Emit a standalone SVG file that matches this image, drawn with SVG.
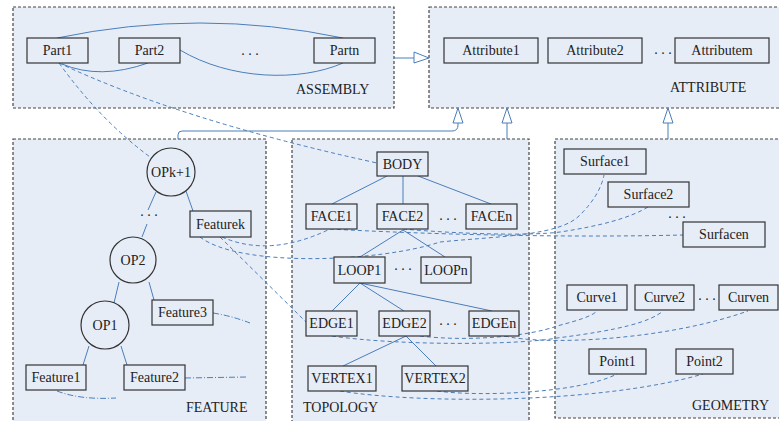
<svg xmlns="http://www.w3.org/2000/svg" width="779" height="421" viewBox="0 0 779 421">
<defs>
<style>
.grp{fill:#e7edf7;stroke:#444;stroke-width:1.2;stroke-dasharray:3 2}
.nd{fill:#e7edf7;stroke:#333;stroke-width:1.2}
.t{font-family:"Liberation Serif","Times New Roman",serif;font-size:14px;fill:#222;text-anchor:middle}
.lbl{font-family:"Liberation Serif","Times New Roman",serif;font-size:14px;fill:#222}
.ln{fill:none;stroke:#4a7ebb;stroke-width:1}
.ds{fill:none;stroke:#4a7ebb;stroke-width:1;stroke-dasharray:4 3}
.dd{fill:none;stroke:#4a7ebb;stroke-width:1;stroke-dasharray:6 2 1 2}
.ah{fill:#fff;stroke:#4a7ebb;stroke-width:1}
</style>
</defs>
<rect width="779" height="421" fill="#fff"/>
<g id="containers">
<rect class="grp" x="13" y="7" width="381" height="101"/>
<rect class="grp" x="429" y="7" width="352" height="101"/>
<rect class="grp" x="13" y="139" width="253" height="290"/>
<rect class="grp" x="292" y="139" width="237" height="290"/>
<rect class="grp" x="555" y="139" width="226" height="279"/>
<text class="lbl" x="296" y="94">ASSEMBLY</text>
<text class="lbl" x="670" y="92">ATTRIBUTE</text>
<text class="lbl" x="186" y="412">FEATURE</text>
<text class="lbl" x="303" y="412">TOPOLOGY</text>
<text class="lbl" x="692" y="410">GEOMETRY</text>
</g>
<g id="connectors">
<path class="ln" d="M57,38 Q200,8 343,38"/>
<path class="ln" d="M62,64 Q100,80 148,63"/>
<path class="ln" d="M180,50 C230,80 300,82 343,63"/>
<path class="ds" d="M59,63 Q100,120 150,157"/>
<path class="ds" d="M59,63 Q180,120 377,163"/>
<path class="ln" d="M394,58 H414"/>
<polygon class="ah" points="414,52 429,58 414,63"/>
<path class="ln" d="M178,139 V135 Q178,131 182,131 H452 Q458,131 458,125 V123"/>
<polygon class="ah" points="453,123 458,108 463,123"/>
<path class="ln" d="M507,139 V123"/>
<polygon class="ah" points="502,123 507,108 512,123"/>
<path class="ln" d="M668,139 V123"/>
<polygon class="ah" points="663,123 668,108 673,123"/>
<path class="ln" d="M156,192 L148,210"/>
<path class="ln" d="M147,224 L142,237"/>
<path class="ln" d="M186,191 L193,211"/>
<path class="ln" d="M119,282 L114,303"/>
<path class="ln" d="M149,282 L154,300"/>
<path class="ln" d="M89,346 L83,365"/>
<path class="ln" d="M121,346 L127,365"/>
<path class="dd" d="M213,313 Q232,316 250,323"/>
<path class="dd" d="M185,378 L247,377"/>
<path class="dd" d="M57,391 Q80,400 116,398"/>
<path class="ln" d="M387,176 L332,204"/>
<path class="ln" d="M403,176 L403,204"/>
<path class="ln" d="M418,176 L491,204"/>
<path class="ln" d="M403,230 L360,257"/>
<path class="ln" d="M403,230 L445,257"/>
<path class="ln" d="M360,283 L332,311"/>
<path class="ln" d="M360,283 L404,311"/>
<path class="ln" d="M360,283 L492,311"/>
<path class="ln" d="M406,336 L343,366"/>
<path class="ln" d="M406,336 L436,366"/>
<path class="ds" d="M222,237 Q270,258 330,229"/>
<path class="ds" d="M200,237 C240,268 380,262 440,242 C500,236 560,236 580,215 Q600,195 604,175"/>
<path class="ds" d="M330,229 C420,234 560,238 683,235"/>
<path class="ds" d="M403,229 C460,234 530,236 560,232 C600,226 630,218 648,207"/>
<path class="ds" d="M220,237 L306,322"/>
<path class="ds" d="M332,336 C400,346 520,345 557,338 C620,330 650,322 663,311"/>
<path class="ds" d="M420,336 C470,342 530,336 557,326 C580,320 592,316 597,311"/>
<path class="ds" d="M505,336 C540,345 660,342 748,311"/>
<path class="ds" d="M340,391 C420,404 600,404 703,374"/>
<path class="ds" d="M437,391 C480,397 580,393 617,374"/>
</g>
<g id="n-part1"><rect class="nd" x="27" y="38" width="61" height="25"/><text class="t" x="57.5" y="55">Part1</text></g>
<g id="n-part2"><rect class="nd" x="119" y="38" width="61" height="25"/><text class="t" x="149.5" y="55">Part2</text></g>
<g id="n-partn"><rect class="nd" x="314" y="38" width="61" height="25"/><text class="t" x="344.5" y="55">Partn</text></g>
<text class="t" x="250" y="55">. . .</text>
<g id="n-attr1"><rect class="nd" x="444" y="38" width="94" height="25"/><text class="t" x="491" y="55">Attribute1</text></g>
<g id="n-attr2"><rect class="nd" x="548" y="38" width="94" height="25"/><text class="t" x="595" y="55">Attribute2</text></g>
<g id="n-attrm"><rect class="nd" x="675" y="38" width="94" height="25"/><text class="t" x="722" y="55">Attributem</text></g>
<text class="t" x="663" y="54">. . .</text>
<g id="n-opk1"><circle class="nd" cx="171" cy="172" r="24"/><text class="t" x="171" y="177">OPk+1</text></g>
<g id="n-op2"><circle class="nd" cx="133" cy="260" r="23"/><text class="t" x="133" y="265">OP2</text></g>
<g id="n-op1"><circle class="nd" cx="105" cy="325" r="24"/><text class="t" x="105" y="330">OP1</text></g>
<text class="t" x="149" y="216">. . .</text>
<g id="n-featurek"><rect class="nd" x="190" y="211" width="61" height="26"/><text class="t" x="220.5" y="229">Featurek</text></g>
<g id="n-feature3"><rect class="nd" x="152" y="300" width="61" height="25"/><text class="t" x="182.5" y="317">Feature3</text></g>
<g id="n-feature1"><rect class="nd" x="26" y="365" width="60" height="25"/><text class="t" x="56" y="382">Feature1</text></g>
<g id="n-feature2"><rect class="nd" x="124" y="365" width="61" height="25"/><text class="t" x="154.5" y="382">Feature2</text></g>
<g id="n-body"><rect class="nd" x="377" y="152" width="51" height="24"/><text class="t" x="402.5" y="169">BODY</text></g>
<g id="n-face1"><rect class="nd" x="306" y="204" width="51" height="25"/><text class="t" x="331.5" y="221">FACE1</text></g>
<g id="n-face2"><rect class="nd" x="377" y="204" width="51" height="25"/><text class="t" x="402.5" y="221">FACE2</text></g>
<g id="n-facen"><rect class="nd" x="466" y="204" width="51" height="25"/><text class="t" x="491.5" y="221">FACEn</text></g>
<text class="t" x="448" y="220">. . .</text>
<g id="n-loop1"><rect class="nd" x="334" y="257" width="51" height="26"/><text class="t" x="359.5" y="275">LOOP1</text></g>
<g id="n-loopn"><rect class="nd" x="421" y="257" width="50" height="26"/><text class="t" x="446" y="275">LOOPn</text></g>
<text class="t" x="403" y="270">. . .</text>
<g id="n-edge1"><rect class="nd" x="306" y="311" width="51" height="25"/><text class="t" x="331.5" y="328">EDGE1</text></g>
<g id="n-edge2"><rect class="nd" x="379" y="311" width="51" height="25"/><text class="t" x="404.5" y="328">EDGE2</text></g>
<g id="n-edgen"><rect class="nd" x="469" y="311" width="50" height="25"/><text class="t" x="494" y="328">EDGEn</text></g>
<text class="t" x="448" y="325">. . .</text>
<g id="n-vertex1"><rect class="nd" x="308" y="366" width="68" height="25"/><text class="t" x="342" y="383">VERTEX1</text></g>
<g id="n-vertex2"><rect class="nd" x="402" y="366" width="66" height="25"/><text class="t" x="435" y="383">VERTEX2</text></g>
<g id="n-surface1"><rect class="nd" x="564" y="149" width="82" height="25"/><text class="t" x="605" y="166">Surface1</text></g>
<g id="n-surface2"><rect class="nd" x="608" y="182" width="81" height="25"/><text class="t" x="648.5" y="199">Surface2</text></g>
<g id="n-surfacen"><rect class="nd" x="683" y="222" width="82" height="25"/><text class="t" x="724" y="239">Surfacen</text></g>
<text class="t" x="677" y="218">. . .</text>
<g id="n-curve1"><rect class="nd" x="567" y="285" width="60" height="25"/><text class="t" x="597" y="302">Curve1</text></g>
<g id="n-curve2"><rect class="nd" x="635" y="285" width="59" height="25"/><text class="t" x="664.5" y="302">Curve2</text></g>
<g id="n-curven"><rect class="nd" x="719" y="285" width="59" height="25"/><text class="t" x="748.5" y="302">Curven</text></g>
<text class="t" x="707" y="300">. . .</text>
<g id="n-point1"><rect class="nd" x="589" y="349" width="57" height="25"/><text class="t" x="617.5" y="366">Point1</text></g>
<g id="n-point2"><rect class="nd" x="676" y="349" width="57" height="25"/><text class="t" x="704.5" y="366">Point2</text></g>
</svg>
